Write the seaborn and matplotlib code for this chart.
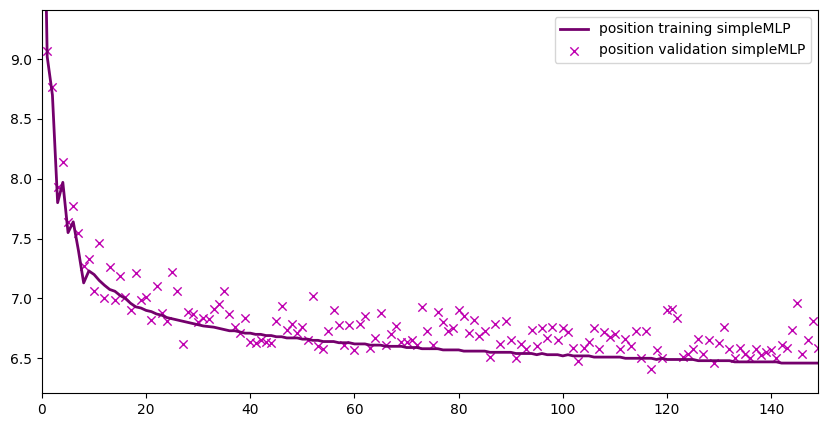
import matplotlib
matplotlib.use("Agg")
import matplotlib.pyplot as plt
import seaborn as sns
import numpy as np
import pandas as pd

train_loss = [
    11.5, 9.02, 8.70, 7.80, 7.97, 7.55, 7.64, 7.40, 7.13, 7.23,
    7.20, 7.15, 7.11, 7.075, 7.06, 7.025, 7.00, 6.96, 6.93, 6.92,
    6.90, 6.89, 6.87, 6.86, 6.84, 6.83, 6.82, 6.81, 6.80, 6.79,
    6.78, 6.77, 6.765, 6.76, 6.75, 6.74, 6.73, 6.73, 6.72, 6.71,
    6.71, 6.70, 6.70, 6.69, 6.69, 6.68, 6.68, 6.67, 6.67, 6.67,
    6.66, 6.66, 6.65, 6.65, 6.64, 6.64, 6.64, 6.63, 6.63, 6.63,
    6.62, 6.62, 6.62, 6.61, 6.61, 6.61, 6.60, 6.60, 6.60, 6.60,
    6.59, 6.59, 6.59, 6.58, 6.58, 6.58, 6.58, 6.57, 6.57, 6.57,
    6.57, 6.56, 6.56, 6.56, 6.56, 6.56, 6.55, 6.55, 6.55, 6.55,
    6.55, 6.54, 6.54, 6.54, 6.54, 6.53, 6.54, 6.53, 6.53, 6.53,
    6.52, 6.53, 6.52, 6.52, 6.52, 6.52, 6.51, 6.51, 6.51, 6.51,
    6.51, 6.51, 6.50, 6.50, 6.50, 6.50, 6.50, 6.50, 6.49, 6.50,
    6.49, 6.49, 6.49, 6.49, 6.49, 6.49, 6.48, 6.48, 6.48, 6.48,
    6.48, 6.48, 6.48, 6.47, 6.47, 6.47, 6.47, 6.47, 6.47, 6.47,
    6.47, 6.47, 6.46, 6.46, 6.46, 6.46, 6.46, 6.46, 6.46, 6.46,
]

val_loss = [
    10.4, 9.07, 8.77, 7.93, 8.14, 7.64, 7.77, 7.55, 7.27, 7.33,
    7.06, 7.46, 7.00, 7.26, 6.99, 7.19, 7.01, 6.90, 7.21, 6.99,
    7.01, 6.82, 7.10, 6.875, 6.81, 7.22, 7.06, 6.62, 6.89, 6.87,
    6.80, 6.84, 6.83, 6.91, 6.95, 7.06, 6.87, 6.76, 6.71, 6.84,
    6.64, 6.63, 6.65, 6.64, 6.63, 6.81, 6.94, 6.74, 6.79, 6.71,
    6.76, 6.65, 7.02, 6.60, 6.58, 6.73, 6.90, 6.78, 6.61, 6.78,
    6.57, 6.79, 6.85, 6.59, 6.67, 6.88, 6.61, 6.70, 6.77, 6.64,
    6.64, 6.65, 6.61, 6.93, 6.73, 6.61, 6.89, 6.80, 6.73, 6.75,
    6.90, 6.85, 6.71, 6.82, 6.69, 6.73, 6.51, 6.79, 6.62, 6.81,
    6.65, 6.50, 6.62, 6.575, 6.74, 6.60, 6.75, 6.67, 6.76, 6.65,
    6.75, 6.72, 6.59, 6.48, 6.59, 6.64, 6.75, 6.58, 6.72, 6.68,
    6.70, 6.58, 6.66, 6.60, 6.73, 6.505, 6.73, 6.41, 6.57, 6.50,
    6.90, 6.91, 6.84, 6.51, 6.54, 6.58, 6.66, 6.54, 6.65, 6.46,
    6.63, 6.76, 6.58, 6.50, 6.59, 6.54, 6.505, 6.575, 6.53, 6.555,
    6.57, 6.505, 6.61, 6.59, 6.74, 6.96, 6.54, 6.65, 6.81, 6.59,
]

epochs = list(range(len(train_loss)))

df = pd.DataFrame({"epoch": epochs, "train": train_loss, "val": val_loss})

fig = plt.figure(figsize=(8.26, 4.28), dpi=100)
ax = fig.add_axes([42 / 826, 1 - 393 / 428, (818 - 42) / 826, (393 - 10) / 428])

sns.lineplot(data=df, x="epoch", y="train", ax=ax, color="#74006c", linewidth=2,
             label="position training simpleMLP")
sns.scatterplot(data=df, x="epoch", y="val", ax=ax, marker="x", color="#bf00b0",
                s=36, linewidth=1, label="position validation simpleMLP")

ax.set_xlim(0, 149)
ax.set_ylim(6.21, 9.41)
ax.set_xlabel("")
ax.set_ylabel("")
ax.legend(loc="upper right")

fig.savefig("out.png", dpi=100)
